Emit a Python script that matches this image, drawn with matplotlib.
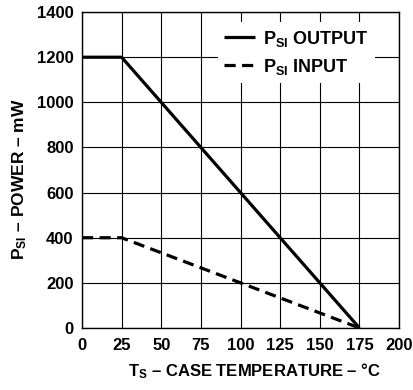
import matplotlib
matplotlib.use("Agg")
import matplotlib.pyplot as plt

# data
temp_output = [0, 25, 175]
power_output = [1200, 1200, 0]
temp_input = [0, 25, 175]
power_input = [400, 400, 0]

x_ticks = [0, 25, 50, 75, 100, 125, 150, 175, 200]
y_ticks = [0, 200, 400, 600, 800, 1000, 1200, 1400]

plt.rcParams['font.family'] = ['Liberation Sans', 'DejaVu Sans']
plt.rcParams['font.weight'] = 'bold'
plt.rcParams['mathtext.fontset'] = 'custom'
plt.rcParams['mathtext.rm'] = 'Liberation Sans:bold'
plt.rcParams['mathtext.it'] = 'Liberation Sans:bold'
plt.rcParams['mathtext.bf'] = 'Liberation Sans:bold'
plt.rcParams['mathtext.default'] = 'rm'

fig = plt.figure(figsize=(4.14, 3.9), dpi=100)
ax = fig.add_axes([0.198, 0.159, 0.766, 0.81])

ax.plot(temp_output, power_output, color='black', lw=2.3, label=r'$P_{SI}$ OUTPUT',
        solid_capstyle='butt', zorder=3)
ax.plot(temp_input, power_input, color='black', lw=2.3, linestyle=(0, (3.5, 2)),
        label=r'$P_{SI}$ INPUT', zorder=3)

ax.set_xlim(0, 200)
ax.set_ylim(0, 1400)
ax.set_xticks(x_ticks)
ax.set_yticks(y_ticks)
ax.tick_params(length=0, labelsize=12)
ax.tick_params(axis='x', pad=7)
ax.tick_params(axis='y', pad=6)
for lab in ax.get_xticklabels() + ax.get_yticklabels():
    lab.set_fontweight('bold')

ax.grid(True, color='black', lw=0.8)
for s in ax.spines.values():
    s.set_linewidth(1.0)

ax.set_xlabel(r'$T_S$ – CASE TEMPERATURE – °C', fontsize=12, fontweight='bold')
ax.set_ylabel(r'$P_{SI}$ – POWER – mW', fontsize=12.5, fontweight='bold')
ax.xaxis.set_label_coords(0.545, -0.105)
ax.yaxis.set_label_coords(-0.168, 0.47)

leg = ax.legend(loc='upper left', bbox_to_anchor=(0.429, 0.968), fontsize=13,
                frameon=True, fancybox=False, handlelength=1.7, handletextpad=0.45,
                borderpad=0.35, labelspacing=0.45, borderaxespad=0)
leg.get_frame().set_facecolor('white')
leg.get_frame().set_edgecolor('none')
leg.get_frame().set_alpha(1.0)
for t in leg.get_texts():
    t.set_fontweight('bold')

fig.savefig('out.png', dpi=100)
